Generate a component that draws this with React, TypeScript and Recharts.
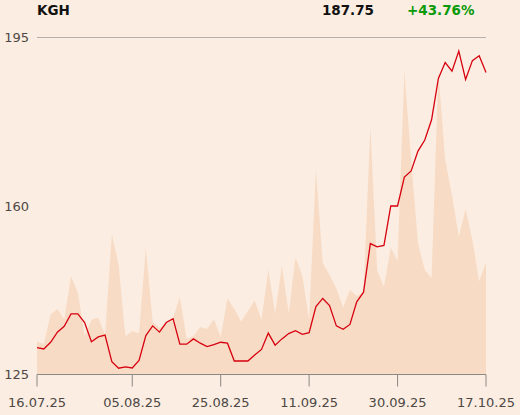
import React from 'react';
import { ComposedChart, Line, Area, XAxis, YAxis, CartesianGrid } from 'recharts';

const dates = [
  '16.07.25','17.07.25','18.07.25','21.07.25','22.07.25','23.07.25','24.07.25','25.07.25','28.07.25','29.07.25','30.07.25','31.07.25',
  '01.08.25','04.08.25','05.08.25','06.08.25','07.08.25','08.08.25','11.08.25','12.08.25','13.08.25','14.08.25','18.08.25','19.08.25','20.08.25','21.08.25','22.08.25','25.08.25','26.08.25','27.08.25','28.08.25','29.08.25',
  '01.09.25','02.09.25','03.09.25','04.09.25','05.09.25','08.09.25','09.09.25','10.09.25','11.09.25','12.09.25','15.09.25','16.09.25','17.09.25','18.09.25','19.09.25','22.09.25','23.09.25','24.09.25','25.09.25','26.09.25','29.09.25','30.09.25',
  '01.10.25','02.10.25','03.10.25','06.10.25','07.10.25','08.10.25','09.10.25','10.10.25','13.10.25','14.10.25','15.10.25','16.10.25','17.10.25',
];

const prices = [
  130.6, 130.3, 131.7, 133.8, 135.0, 137.6, 137.6, 135.8, 131.8, 132.8, 133.2, 127.65,
  126.3, 126.6, 126.35, 127.9, 133.1, 135.1, 133.8, 135.8, 136.6, 131.3, 131.3, 132.4, 131.5, 130.8, 131.2, 131.7, 131.5, 127.8, 127.8, 127.8,
  129.05, 130.2, 133.6, 131.1, 132.4, 133.5, 134.1, 133.35, 133.7, 139.1, 140.8, 139.3, 135.1, 134.4, 135.4, 140.1, 142.1, 152.2, 151.5, 151.8, 160.0, 160.0,
  166.0, 167.3, 171.4, 173.7, 177.9, 186.5, 189.8, 188.0, 192.2, 186.3, 190.2, 191.2, 187.75,
];

const volumes = [
  33, 30.5, 60, 65.5, 55, 98, 82, 38.5, 54.5, 57, 39.5, 140.5,
  109.5, 38, 43.5, 41, 126.5, 52.5, 46.5, 51.5, 56.5, 77.5, 35.5, 38.5, 47.5, 45.5, 55.5, 37.5, 76, 65.5, 53, 63.5,
  74, 54.5, 105, 61, 108.5, 61, 117, 98.5, 54.5, 205, 111.5, 99.5, 86, 67, 84.5, 78.5, 82.5, 247.5, 104.5, 87.5, 127, 113.5,
  303, 214.5, 131.5, 104.5, 96.5, 302.5, 214.5, 179.5, 137.5, 165.5, 134.5, 93, 112.5,
];

const xTicks = ['16.07.25', '05.08.25', '25.08.25', '11.09.25', '30.09.25', '17.10.25'];
const yTicks = [125, 160, 195];

const title = 'KGH';
const lastPrice = '187.75';
const change = '+43.76%';

const data = dates.map((d, i) => ({ date: d, price: prices[i], volume: volumes[i] }));

const FONT = "'DejaVu Sans', sans-serif";
const BG = '#FBEDE1';

export default function App() {
  return (
    <div style={{ position: 'absolute', left: 0, top: 0, width: 520, height: 415, background: BG, overflow: 'hidden' }}>
      <ComposedChart
        width={520}
        height={415}
        data={data}
        margin={{ top: 37.5, right: 34, bottom: 0, left: 0 }}
        style={{ fontFamily: FONT }}
      >
        <CartesianGrid horizontal vertical={false} stroke="#B4B0AC" strokeWidth={1} />
        <YAxis
          yAxisId="vol"
          orientation="right"
          hide
          domain={[0, 337]}
          type="number"
        />
        <YAxis
          yAxisId="price"
          width={37}
          domain={[125, 195]}
          ticks={yTicks}
          type="number"
          axisLine={false}
          tickLine={false}
          tickSize={0}
          tickMargin={8}
          tick={{ fill: '#4D4845', fontSize: 13, fontFamily: FONT }}
          allowDataOverflow
        />
        <XAxis
          dataKey="date"
          type="category"
          ticks={xTicks}
          interval={0}
          height={40.5}
          stroke="#8C8884"
          axisLine={{ stroke: '#8C8884' }}
          tickLine={{ stroke: '#8C8884' }}
          tickSize={12}
          tickMargin={11}
          tick={{ fill: '#4D4845', fontSize: 13, fontFamily: FONT }}
        />
        <Area
          yAxisId="vol"
          dataKey="volume"
          type="linear"
          stroke="none"
          fill="#F7DBC5"
          fillOpacity={1}
          isAnimationActive={false}
        />
        <Line
          yAxisId="price"
          dataKey="price"
          type="linear"
          stroke="#D7000F"
          strokeWidth={1.3}
          dot={false}
          activeDot={false}
          isAnimationActive={false}
        />
      </ComposedChart>
      <svg width={520} height={30} style={{ position: 'absolute', left: 0, top: 0 }}>
        <text x={37} y={15} fontFamily={FONT} fontWeight="bold" fontSize={13.5} fill="#111">{title}</text>
        <text x={374} y={15} textAnchor="end" fontFamily={FONT} fontWeight="bold" fontSize={13.5} fill="#111">{lastPrice}</text>
        <text x={407} y={15} fontFamily={FONT} fontWeight="bold" fontSize={13.5} fill="#0A9A0A">{change}</text>
      </svg>
    </div>
  );
}
